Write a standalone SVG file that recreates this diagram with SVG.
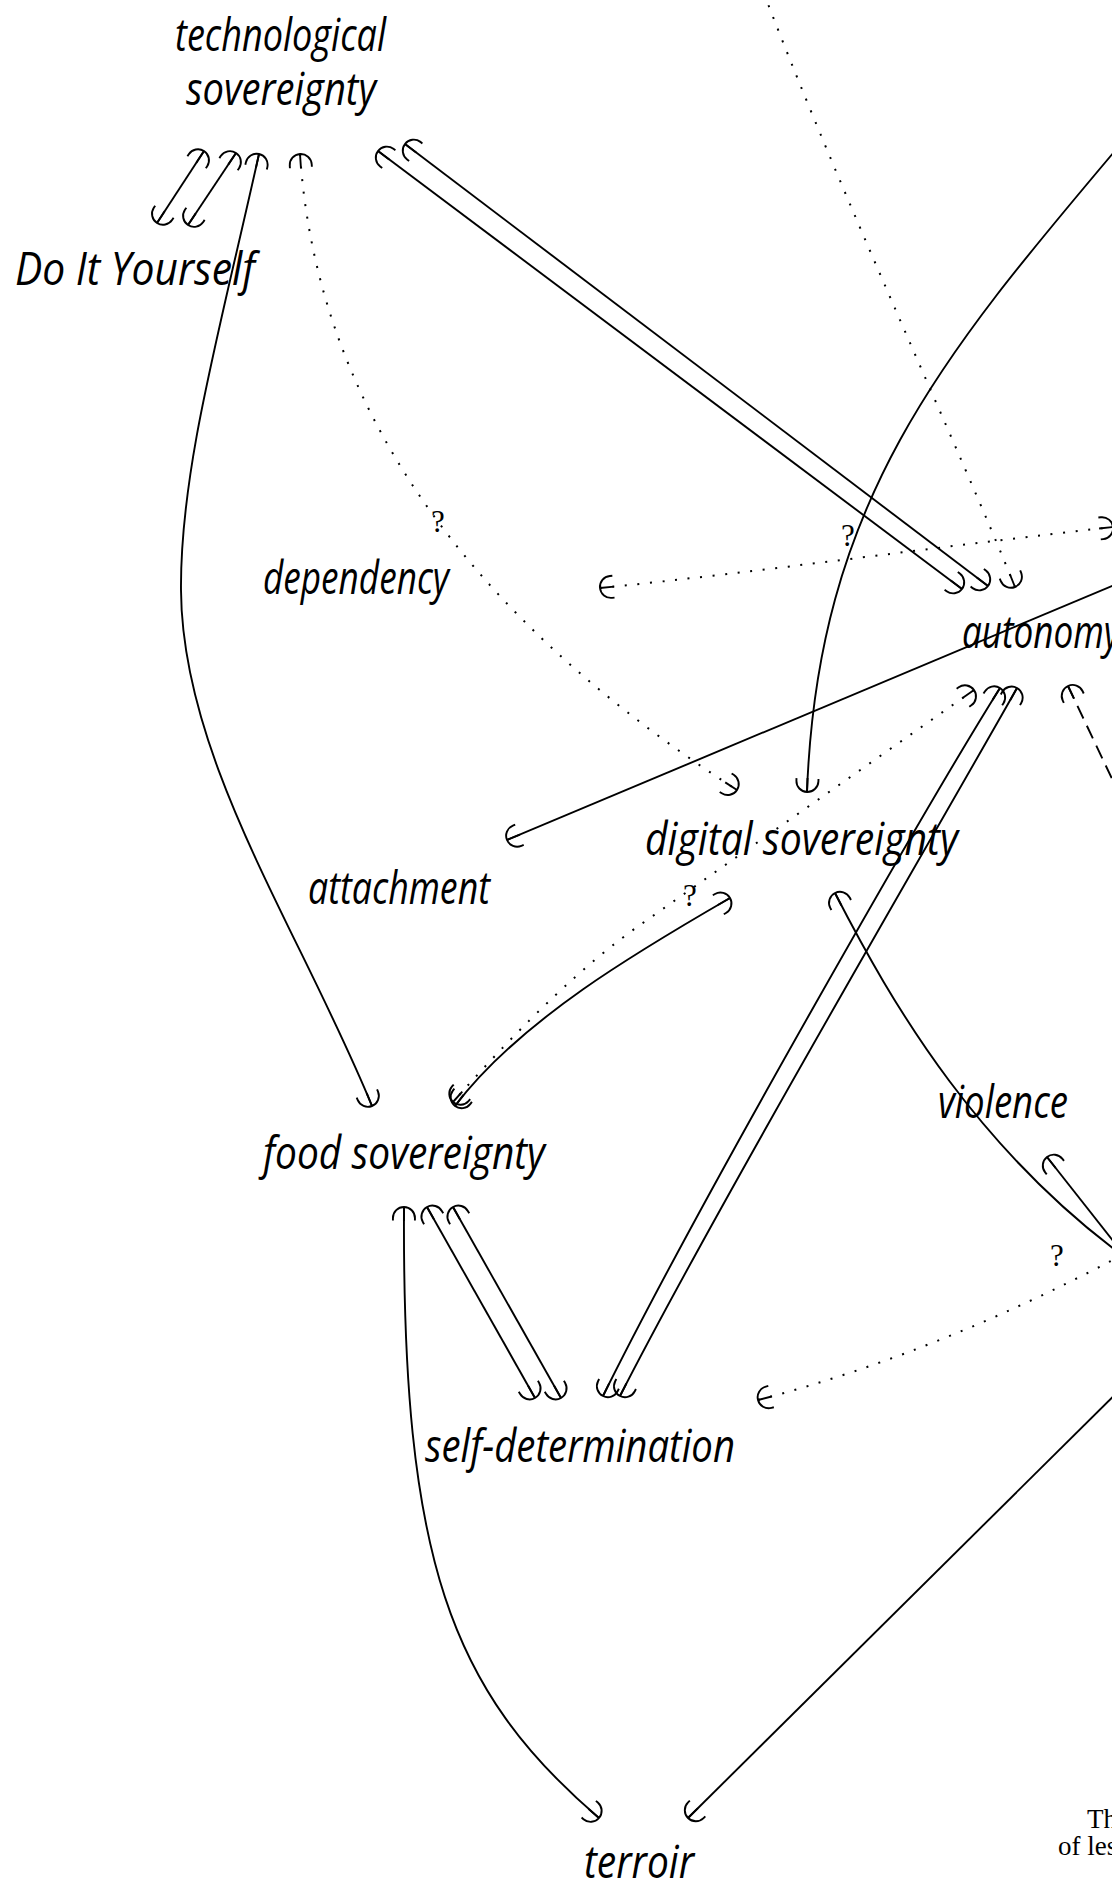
<svg xmlns="http://www.w3.org/2000/svg" width="1112" height="1887" viewBox="0 0 1112 1887">
<style>
.lbl{font-family:"Open Sans","DejaVu Sans",sans-serif;font-style:italic;font-size:46px;fill:#000}
.q{font-family:"Liberation Serif",serif;font-size:31px;fill:#000;text-anchor:middle}
.note{font-family:"Liberation Serif",serif;font-size:27px;fill:#000}
.e{fill:none;stroke:#000;stroke-width:1.9;marker-start:url(#cup);marker-end:url(#cup)}
.dot{stroke-width:2;stroke-dasharray:2 10.6}
.dash{stroke-dasharray:14 8}
</style>
<defs>
<marker id="cup" markerUnits="userSpaceOnUse" markerWidth="40" markerHeight="40" viewBox="-20 -20 40 40" refX="0" refY="0" orient="auto-start-reverse" overflow="visible">
<path d="M-14,0 L0,0 M-13.5,-11 L-11,-11 A11,11 0 0 1 -11,11 L-13.5,11" fill="none" stroke="#000" stroke-width="1.9" stroke-dasharray="none"/>
</marker>
</defs>
<rect width="1112" height="1887" fill="#fff"/>
<g id="connectors">
<path class="e" d="M204,151 L157,223"/>
<path class="e" d="M236,153 L188,225"/>
<path class="e" d="M259,154 C220,330 180,470 181,590 C182,760 300,930 372,1106"/>
<path class="e dot" d="M300,154 C320,450 520,650 737,790"/>
<path class="e" d="M378,151 L962,589"/>
<path class="e" d="M405,144 L988,586"/>
<path class="e dot" d="M755,-30 C838,190 960,450 1015,587"/>
<path class="e" d="M1240,0 C1000,300 820,440 807,792"/>
<path class="e dot" d="M600,588 C760,572 950,545 1113,527"/>
<path class="e" d="M1200,549 L507,840"/>
<path class="e dot" d="M974,690 L640,925 Q560,981 453,1102"/>
<path class="e" d="M730,898 C640,950 520,1020 455,1106"/>
<path class="e" d="M1000,688 C930,800 700,1200 603,1396"/>
<path class="e" d="M1017,688 C960,790 720,1200 620,1396"/>
<path class="e dash" d="M1068,686 L1160,880"/>
<path class="e" d="M835,893 C890,1000 980,1160 1150,1275"/>
<path class="e" d="M1047,1157 L1140,1275"/>
<path class="e dot" d="M758,1400 Q950,1350 1150,1240"/>
<path class="e" d="M404,1207 C402,1560 450,1690 599,1818"/>
<path class="e" d="M427,1207 L535,1398"/>
<path class="e" d="M453,1207 L561,1398"/>
<path class="e" d="M1160,1350 L688,1818"/>
<text class="q" x="438" y="532">?</text>
<text class="q" x="848" y="546">?</text>
<text class="q" x="690" y="906">?</text>
<text class="q" x="1057" y="1266">?</text>
</g>
<g id="technological-sovereignty"><text class="lbl" x="175" y="51" textLength="211" lengthAdjust="spacingAndGlyphs">technological</text><text class="lbl" x="186" y="105" textLength="190" lengthAdjust="spacingAndGlyphs">sovereignty</text></g>
<g id="do-it-yourself"><text class="lbl" x="15" y="285" textLength="240" lengthAdjust="spacingAndGlyphs">Do It Yourself</text></g>
<g id="dependency"><text class="lbl" x="263" y="594" textLength="186" lengthAdjust="spacingAndGlyphs">dependency</text></g>
<g id="autonomy"><text class="lbl" x="962" y="648" textLength="158" lengthAdjust="spacingAndGlyphs">autonomy</text></g>
<g id="attachment"><text class="lbl" x="308" y="904" textLength="182" lengthAdjust="spacingAndGlyphs">attachment</text></g>
<g id="digital-sovereignty"><text class="lbl" x="645" y="855" textLength="313" lengthAdjust="spacingAndGlyphs">digital sovereignty</text></g>
<g id="violence"><text class="lbl" x="938" y="1118" textLength="130" lengthAdjust="spacingAndGlyphs">violence</text></g>
<g id="food-sovereignty"><text class="lbl" x="263" y="1169" textLength="282" lengthAdjust="spacingAndGlyphs">food sovereignty</text></g>
<g id="self-determination"><text class="lbl" x="425" y="1462" textLength="310" lengthAdjust="spacingAndGlyphs">self-determination</text></g>
<g id="terroir"><text class="lbl" x="584" y="1878" textLength="110" lengthAdjust="spacingAndGlyphs">terroir</text></g>
<g id="note"><text class="note" x="1087" y="1828">Th</text><text class="note" x="1058" y="1855">of les</text></g>
</svg>
